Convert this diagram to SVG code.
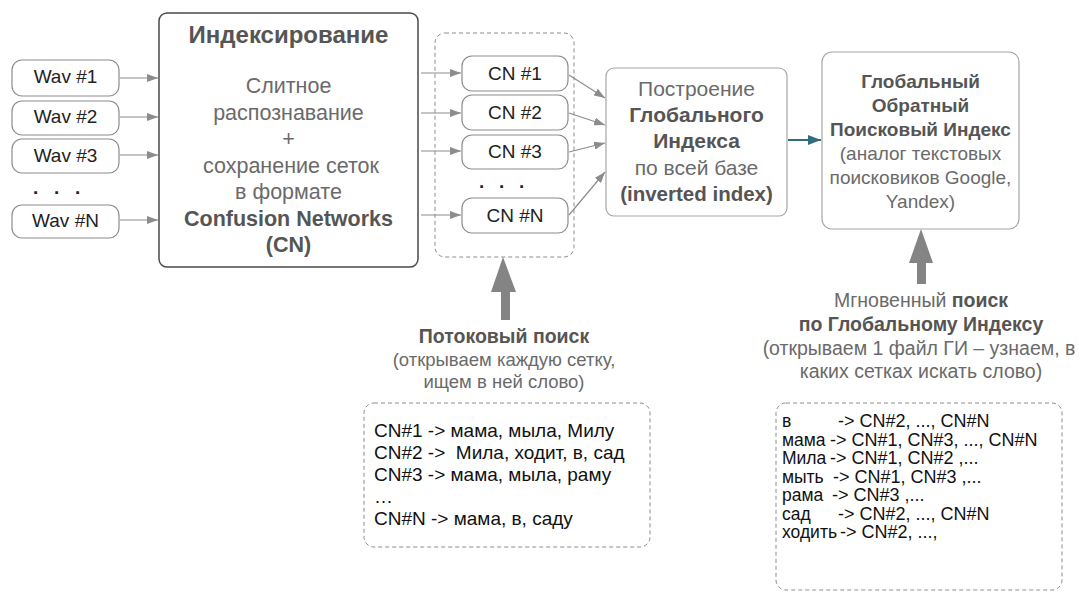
<svg xmlns="http://www.w3.org/2000/svg" width="1079" height="591" viewBox="0 0 1079 591">
  <style>
    text { font-family: "Liberation Sans", Arial, sans-serif; }
    .box { fill: #ffffff; stroke: #8c8c8c; stroke-width: 1.2; }
    .box-main { fill: #ffffff; stroke: #4a4a4a; stroke-width: 1.5; }
    .box-soft { fill: #ffffff; stroke: #a6a6a6; stroke-width: 1.2; }
    .dashed { fill: none; stroke: #8c8c8c; stroke-width: 1; stroke-dasharray: 4 3; }
    .lbl { font-size: 19px; fill: #222222; text-anchor: middle; }
    .c { text-anchor: middle; }
    .g { fill: #6a6a6a; }
    .b { font-weight: bold; fill: #555555; }
    .list { font-size: 19px; fill: #111111; }
    .list2 { font-size: 18px; fill: #111111; }
    .word { font-size: 17.5px; fill: #111111; }
    .dots { font-size: 19px; font-weight: bold; fill: #222222; }
    .arrow { stroke: #8c8c8c; stroke-width: 1.2; fill: none; marker-end: url(#head); }
    .big { fill: #848484; }
  </style>
  <defs>
    <marker id="head" markerUnits="userSpaceOnUse" markerWidth="11" markerHeight="8" refX="11" refY="4" orient="auto">
      <path d="M0,0 L11,4 L0,8 z" fill="#8c8c8c"/>
    </marker>
    <marker id="head-teal" markerUnits="userSpaceOnUse" markerWidth="13" markerHeight="10" refX="13" refY="5" orient="auto">
      <path d="M0,0 L13,5 L0,10 z" fill="#2f6d7f"/>
    </marker>
  </defs>

  <!-- audio inputs -->
  <g id="wav1"><rect class="box" x="12" y="60" width="107" height="36" rx="10"/><text class="lbl" x="65.5" y="83">Wav #1</text></g>
  <g id="wav2"><rect class="box" x="12" y="101" width="107" height="34" rx="10"/><text class="lbl" x="65.5" y="123">Wav #2</text></g>
  <g id="wav3"><rect class="box" x="12" y="139" width="107" height="34" rx="10"/><text class="lbl" x="65.5" y="162">Wav #3</text></g>
  <g id="wav-dots"><text class="dots" x="33 54 75" y="194">...</text></g>
  <g id="wavN"><rect class="box" x="12" y="205" width="107" height="33" rx="10"/><text class="lbl" x="65.5" y="227">Wav #N</text></g>

  <!-- indexing stage -->
  <g id="indexing">
    <rect class="box-main" x="159" y="13" width="259" height="254" rx="8"/>
    <text class="c b" x="288.5" y="43" font-size="24">Индексирование</text>
    <g class="c g" font-size="21.5">
      <text x="288.5" y="93">Слитное</text>
      <text x="288.5" y="119.5">распознавание</text>
      <text x="288.5" y="146">+</text>
      <text x="291" y="172.5">сохранение сеток</text>
      <text x="288.5" y="199">в формате</text>
    </g>
    <text class="c b" x="288.5" y="225.5" font-size="21.5">Confusion Networks</text>
    <text class="c b" x="288.5" y="252" font-size="21.5">(CN)</text>
  </g>

  <!-- confusion network files -->
  <g id="cn-group"><rect class="dashed" x="435" y="33" width="139" height="224" rx="10"/></g>
  <g id="cn1"><rect class="box" x="462" y="56" width="106" height="35" rx="10"/><text class="lbl" x="515" y="80">CN #1</text></g>
  <g id="cn2"><rect class="box" x="462" y="95" width="106" height="35" rx="10"/><text class="lbl" x="515" y="119">CN #2</text></g>
  <g id="cn3"><rect class="box" x="462" y="135" width="106" height="34" rx="10"/><text class="lbl" x="515" y="158">CN #3</text></g>
  <g id="cn-dots"><text class="dots" x="479 499 519" y="188">...</text></g>
  <g id="cnN"><rect class="box" x="462" y="198" width="106" height="35" rx="10"/><text class="lbl" x="515" y="222">CN #N</text></g>

  <!-- global index build -->
  <g id="build">
    <rect class="box-soft" x="606" y="68" width="181" height="148" rx="8"/>
    <text class="c g" x="696.5" y="96" font-size="21">Построение</text>
    <text class="c b" x="696.5" y="122" font-size="21">Глобального</text>
    <text class="c b" x="696.5" y="148" font-size="21">Индекса</text>
    <text class="c g" x="696.5" y="175" font-size="21">по всей базе</text>
    <text class="c b" x="696.5" y="201" font-size="20.5">(inverted index)</text>
  </g>

  <!-- resulting inverted index -->
  <g id="global-index">
    <rect class="box-soft" x="822" y="52" width="197" height="177" rx="10"/>
    <g class="c b" font-size="19">
      <text x="920.5" y="88">Глобальный</text>
      <text x="920.5" y="112">Обратный</text>
      <text x="920.5" y="136">Поисковый Индекс</text>
    </g>
    <g class="c g" font-size="19">
      <text x="920.5" y="160">(аналог текстовых</text>
      <text x="920.5" y="184">поисковиков Google,</text>
      <text x="920.5" y="208">Yandex)</text>
    </g>
  </g>

  <!-- streaming search -->
  <g id="stream-search">
    <text class="c b" x="504" y="343" font-size="19.5">Потоковый поиск</text>
    <text class="c g" x="504" y="366" font-size="18.5">(открываем каждую сетку,</text>
    <text class="c g" x="504" y="388" font-size="18.5">ищем в ней слово)</text>
  </g>
  <g id="stream-list">
    <rect class="dashed" x="364" y="403" width="286" height="144" rx="10"/>
    <text class="list" x="374" y="437">CN#1 -&gt; мама, мыла, Милу</text>
    <text class="list" x="374" y="459" xml:space="preserve">CN#2 -&gt;  Мила, ходит, в, сад</text>
    <text class="list" x="374" y="481">CN#3 -&gt; мама, мыла, раму</text>
    <text class="list" x="374" y="503">…</text>
    <text class="list" x="374" y="525">CN#N -&gt; мама, в, саду</text>
  </g>

  <!-- instant search -->
  <g id="instant-search">
    <text class="c g" x="921" y="307" font-size="19.5">Мгновенный <tspan class="b">поиск</tspan></text>
    <text class="c b" x="921" y="331" font-size="19.5">по Глобальному Индексу</text>
    <text class="c g" x="919" y="355" font-size="19.5">(открываем 1 файл ГИ – узнаем, в</text>
    <text class="c g" x="921" y="378" font-size="19.5">каких сетках искать слово)</text>
  </g>
  <g id="index-list">
    <rect class="dashed" x="776" y="403" width="286" height="187" rx="10"/>
    <g class="word">
      <text x="782" y="427">в</text>
      <text x="782" y="445.5">мама</text>
      <text x="782" y="464">Мила</text>
      <text x="782" y="482.5">мыть</text>
      <text x="782" y="501">рама</text>
      <text x="782" y="519.5">сад</text>
      <text x="782" y="538">ходить</text>
    </g>
    <g class="list2">
      <text x="838" y="427">-&gt; CN#2, ..., CN#N</text>
      <text x="830" y="445.5">-&gt; CN#1, CN#3, ..., CN#N</text>
      <text x="830" y="464">-&gt; CN#1, CN#2 ,...</text>
      <text x="833" y="482.5">-&gt; CN#1, CN#3 ,...</text>
      <text x="832" y="501">-&gt; CN#3 ,...</text>
      <text x="838" y="519.5">-&gt; CN#2, ..., CN#N</text>
      <text x="840" y="538">-&gt; CN#2, ...,</text>
    </g>
  </g>

  <!-- connectors -->
  <g id="connectors">
    <line class="arrow" x1="120" y1="78" x2="158" y2="78"/>
    <line class="arrow" x1="120" y1="117" x2="158" y2="117"/>
    <line class="arrow" x1="120" y1="155" x2="158" y2="155"/>
    <line class="arrow" x1="120" y1="220" x2="158" y2="220"/>

    <line class="arrow" x1="421" y1="73" x2="461" y2="73"/>
    <line class="arrow" x1="421" y1="113" x2="461" y2="113"/>
    <line class="arrow" x1="421" y1="151" x2="461" y2="151"/>
    <line class="arrow" x1="421" y1="215" x2="461" y2="215"/>

    <line class="arrow" x1="569" y1="75" x2="605" y2="98"/>
    <line class="arrow" x1="569" y1="113" x2="605" y2="125"/>
    <line class="arrow" x1="569" y1="152" x2="605" y2="143"/>
    <line class="arrow" x1="569" y1="215" x2="605" y2="172"/>

    <line x1="788" y1="140" x2="821" y2="140" stroke="#2f6d7f" stroke-width="2" marker-end="url(#head-teal)"/>

    <polygon class="big" points="503,257 516,292 510,292 510,320 501,320 501,292 491,292"/>
    <polygon class="big" points="921,229 933,263 926,263 926,284 917,284 917,263 909,263"/>
  </g>
</svg>
